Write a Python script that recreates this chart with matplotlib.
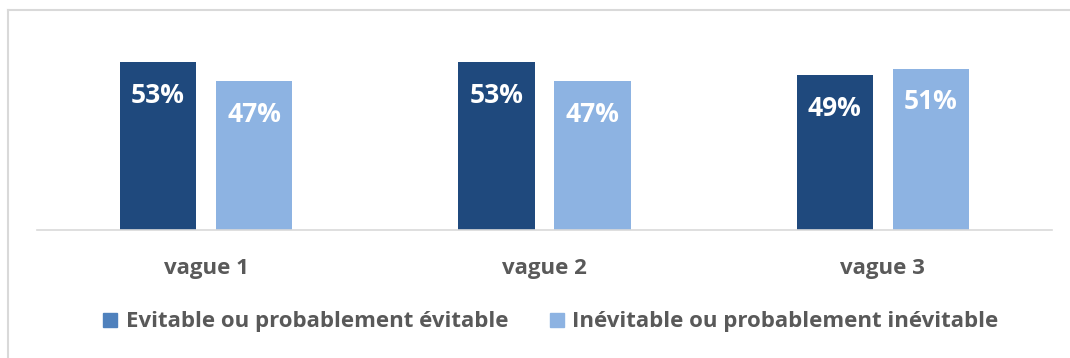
import matplotlib.pyplot as plt
import numpy as np
from matplotlib.patches import Patch
from matplotlib.lines import Line2D

# data
categories = ["vague 1", "vague 2", "vague 3"]
series_names = ["Evitable ou probablement évitable", "Inévitable ou probablement inévitable"]
evitable = [53, 53, 49]
inevitable = [47, 47, 51]

bar_colors = ["#1F497D", "#8DB3E2"]
legend_colors = ["#4F81BD", "#8DB3E2"]
text_color = "#595959"

plt.rcParams["font.family"] = ["Open Sans", "DejaVu Sans"]

fig = plt.figure(figsize=(10.7, 3.58), dpi=100)
ax = fig.add_axes([37 / 1070, 1 - 230 / 358, 1015 / 1070, 190 / 358])

x = np.arange(len(categories))
width = 0.225
offset = 0.142

for vals, col, dx in [(evitable, bar_colors[0], -offset), (inevitable, bar_colors[1], offset)]:
    bars = ax.bar(x + dx, vals, width, color=col)
    for b, v in zip(bars, vals):
        ax.annotate(f"{v}%", (b.get_x() + b.get_width() / 2, b.get_height()),
                    xytext=(0, -24), textcoords="offset points",
                    ha="center", va="center", color="white",
                    fontsize=19, fontweight="bold")

ax.set_xlim(-0.5, 2.5)
ax.set_ylim(0, 60)
ax.set_yticks([])
ax.set_xticks(x)
ax.set_xticklabels(categories, fontsize=16, fontweight="bold", color=text_color)
ax.tick_params(axis="x", length=0, pad=20)
for s in ["top", "right", "left"]:
    ax.spines[s].set_visible(False)
ax.spines["bottom"].set_color("#D9D9D9")
ax.spines["bottom"].set_linewidth(1.2)

handles = [Patch(color=c) for c in legend_colors]
leg = fig.legend(handles, series_names, loc="center", bbox_to_anchor=(551 / 1070, 1 - 322 / 358),
                 ncol=2, frameon=False, handlelength=0.6, handleheight=0.6,
                 handletextpad=0.4, columnspacing=1.9,
                 prop={"size": 16, "weight": "bold"})
for t in leg.get_texts():
    t.set_color(text_color)

# chart frame (left and top edges visible)
fig.add_artist(Line2D([8 / 1070, 8 / 1070], [0, 1 - 10 / 358], color="#D9D9D9", lw=1.5))
fig.add_artist(Line2D([8 / 1070, 1], [1 - 10 / 358, 1 - 10 / 358], color="#D9D9D9", lw=1.5))

fig.savefig("out.png", dpi=100)
